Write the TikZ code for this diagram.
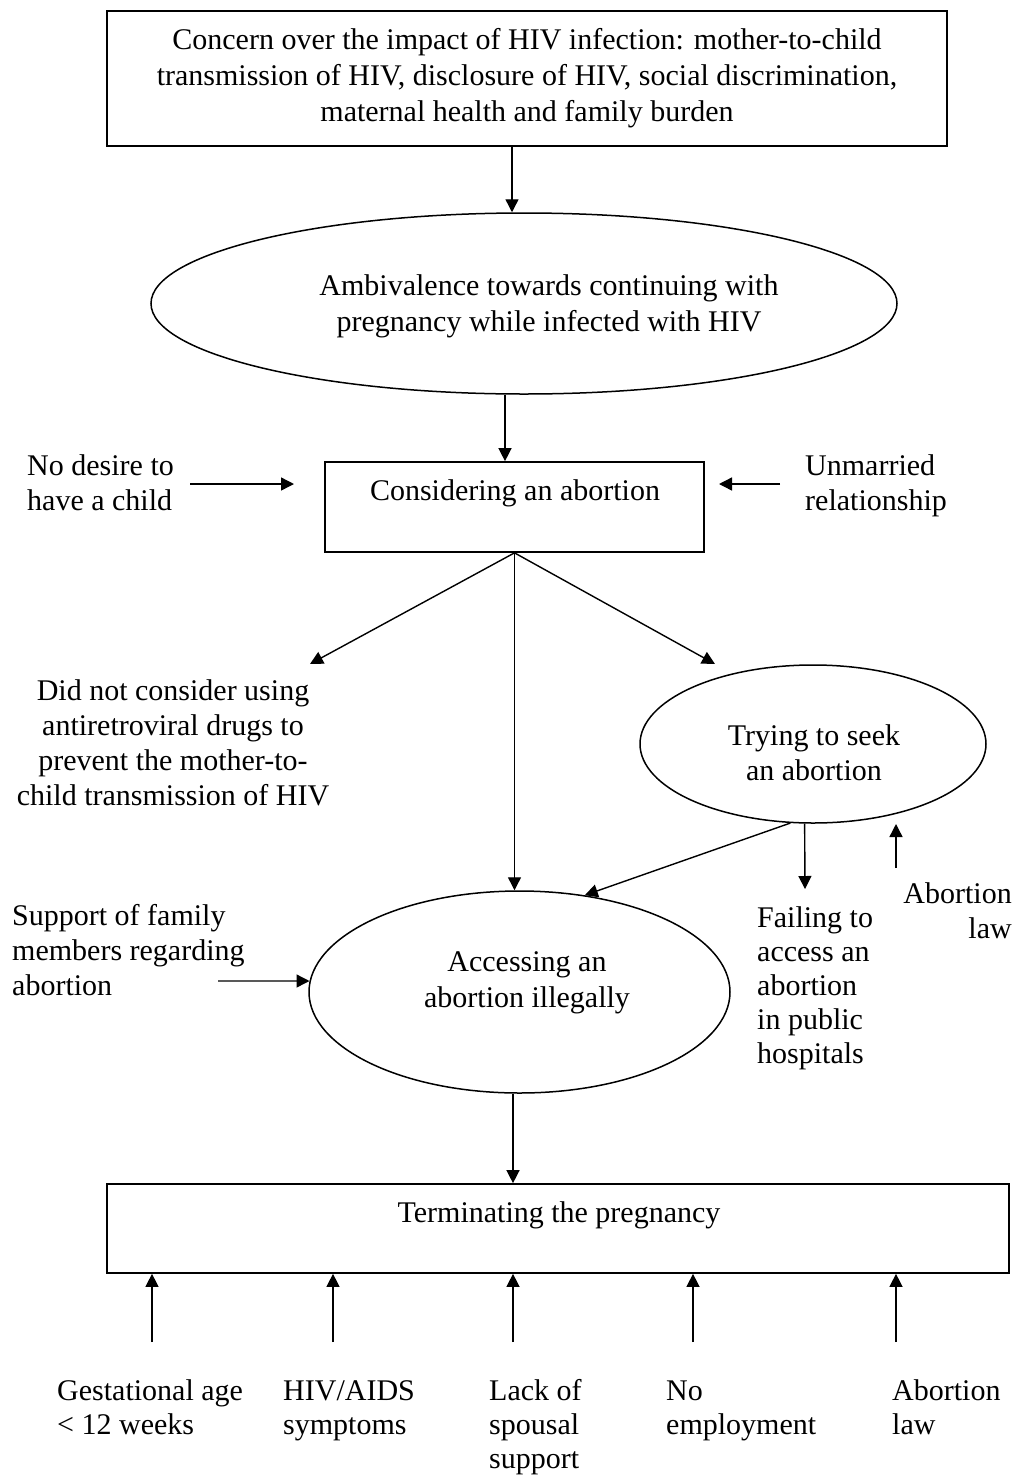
\documentclass[tikz,border=0pt]{standalone}
\usepackage{fontspec}
\setmainfont{Liberation Serif}
\usetikzlibrary{shapes.geometric,arrows.meta}
% multi-line text block whose base is the first baseline
\newcommand{\txtblock}[2]{\begin{tabular}[t]{@{}#1@{}}#2\end{tabular}}

\begin{document}
\begin{tikzpicture}[x=1pt,y=-1pt,
  txt/.style={inner sep=0pt, font=\fontsize{30}{35}\selectfont},
  txtwide/.style={inner sep=0pt, font=\fontsize{30}{36}\selectfont},
  txttight/.style={inner sep=0pt, font=\fontsize{30}{34}\selectfont},
  boxshape/.style={draw, line width=1.7pt, rectangle, inner sep=0pt},
  ellshape/.style={draw, line width=1.5pt, ellipse, inner sep=0pt},
  arr/.style={line width=1.4pt, -{Triangle[length=13pt,width=13pt]}}]

\fill[white] (0,0) rectangle (1020,1478);
\useasboundingbox (0,0) rectangle (1020,1478);

% shapes
\node[boxshape, minimum width=840pt, minimum height=135pt] (concern) at (527,78.5) {};
\node[ellshape, minimum width=746pt, minimum height=181pt] (amb) at (524,303.5) {};
\node[boxshape, minimum width=379pt, minimum height=90pt] (cons) at (514.5,507) {};
\node[ellshape, minimum width=346pt, minimum height=158pt] (try) at (813,744) {};
\node[ellshape, minimum width=421pt, minimum height=202pt] (acc) at (519.5,992) {};
\node[boxshape, minimum width=902pt, minimum height=89pt] (term) at (558,1228.5) {};

% texts inside the shapes
\node[txtwide, anchor=base] (concerntxt) at (527,49)
  {\txtblock{c}{Concern over the impact of HIV infection: mother-to-child\\transmission of HIV, disclosure of HIV, social discrimination,\\maternal health and family burden}};
\node[txtwide, anchor=base] (ambtxt) at (549,295)
  {\txtblock{c}{Ambivalence towards continuing with\\pregnancy while infected with HIV}};
\node[txt, anchor=base] (constxt) at (515,500) {Considering an abortion};
\node[txt, anchor=base] (trytxt) at (814,745)
  {\txtblock{c}{Trying to seek\\an abortion}};
\node[txtwide, anchor=base] (acctxt) at (527,971)
  {\txtblock{c}{Accessing an\\abortion illegally}};
\node[txt, anchor=base] (termtxt) at (559,1222) {Terminating the pregnancy};

% free-standing labels
\node[txt, anchor=base west] (nodesire) at (27,475)
  {\txtblock{l}{No desire to\\have a child}};
\node[txt, anchor=base west] (unmarried) at (805,475)
  {\txtblock{l}{Unmarried\\relationship}};
\node[txt, anchor=base] (notarv) at (173,700)
  {\txtblock{c}{Did not consider using\\antiretroviral drugs to\\prevent the mother-to-\\child transmission of HIV}};
\node[txttight, anchor=base west] (fail) at (757,927)
  {\txtblock{l}{Failing to\\access an\\abortion\\in public\\hospitals}};
\node[txt, anchor=base east] (lawmid) at (1012,903)
  {\txtblock{r}{Abortion\\law}};
\node[txt, anchor=base west] (support) at (12,925)
  {\txtblock{l}{Support of family\\members regarding\\abortion}};
\node[txttight, anchor=base west] (gest) at (57,1400)
  {\txtblock{l}{Gestational age\\< 12 weeks}};
\node[txttight, anchor=base west] (aids) at (283,1400)
  {\txtblock{l}{HIV/AIDS\\symptoms}};
\node[txttight, anchor=base west] (spouse) at (489,1400)
  {\txtblock{l}{Lack of\\spousal\\support}};
\node[txttight, anchor=base west] (employ) at (666,1400)
  {\txtblock{l}{No\\employment}};
\node[txttight, anchor=base west] (lawlow) at (892,1400)
  {\txtblock{l}{Abortion\\law}};

% free arrow ends
\coordinate (ndtail) at (190,484);
\coordinate (ndtip) at (294,484);
\coordinate (umtail) at (780,484);
\coordinate (umtip) at (719,484);
\coordinate (notarvtip) at (310,664);
\coordinate (trytip) at (715,664);
\coordinate (failtip) at (805,889);
\coordinate (lawtail) at (896,868);
\coordinate (lawtip) at (896,824);
\coordinate (supptail) at (218,981);
\coordinate (b1) at (152,1342);
\coordinate (b2) at (333,1342);
\coordinate (b3) at (513,1342);
\coordinate (b4) at (693,1342);
\coordinate (b5) at (896,1342);

% connectors
\draw[arr] ([xshift=-15pt]concern.south) -- ([xshift=-15pt]concern.south |- amb.north);
\draw[arr] ([xshift=-19pt]amb.south) -- ([xshift=-19pt]amb.south |- cons.north);
\draw[arr] (ndtail) -- (ndtip);
\draw[arr] (umtail) -- (umtip);
\draw[arr] (cons.south) -- (notarvtip);
\draw[arr] (cons.south) -- (trytip);
\draw[arr] (cons.south) -- (cons.south |- acc.north);
\draw[arr] (try.254) -- (acc.56.6);
\draw[arr] (try.264) -- (failtip);
\draw[arr] (lawtail) -- (lawtip);
\draw[arr] (supptail) -- (acc.177);
\draw[arr] ([xshift=-6.5pt]acc.south) -- ([xshift=-6.5pt]acc.south |- term.north);
\foreach \b in {b1,b2,b3,b4,b5}
  \draw[arr] (\b) -- (\b |- term.south);
\end{tikzpicture}
\end{document}
